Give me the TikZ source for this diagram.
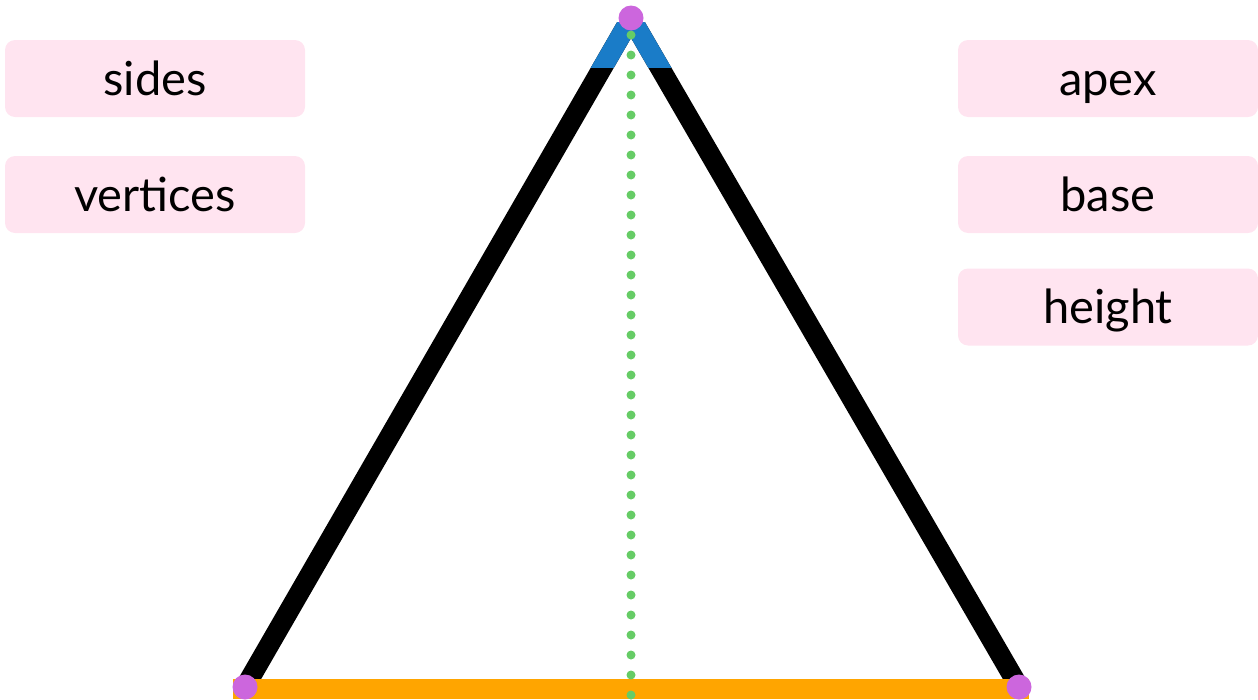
\documentclass[tikz,border=0pt]{standalone}
\usepackage{fontspec}
\setmainfont{Lato}
\definecolor{boxpink}{HTML}{FFE4F0}
\definecolor{vtx}{HTML}{CC66DD}
\definecolor{hgt}{HTML}{66CC66}
\definecolor{apexblue}{HTML}{1A7CC8}
\definecolor{baseorange}{HTML}{FFA500}
\begin{document}
\begin{tikzpicture}[x=1pt,y=-1pt,
  label box/.style={fill=boxpink, rounded corners=10pt, minimum width=300pt, minimum height=77pt, font=\fontsize{47}{50}\selectfont, inner sep=0pt, text height=40pt, text depth=7pt},
  side line/.style={line width=20pt},
  vertex dot/.style={circle, fill=vtx, minimum size=25pt, inner sep=0pt}]
\useasboundingbox (0,0) rectangle (1258,699);
\coordinate (A) at (631,18);
\coordinate (B) at (245,687);
\coordinate (C) at (1019,687);
% sides
\begin{scope}
  \clip (0,22) rectangle (1258,699);
  \draw[side line] (B) -- (A) -- (C);
\end{scope}
\begin{scope}
  \clip (500,22) rectangle (760,67);
  \draw[side line, apexblue] (B) -- (A) -- (C);
\end{scope}
% base
\coordinate (BL) at (233,689);
\coordinate (BR) at (1029,689);
\draw[line width=20pt, baseorange] (BL) -- (BR);
% height
\coordinate (H1) at (631,35);
\coordinate (H2) at (631,699);
\draw[hgt, line width=9pt, line cap=round, dash pattern=on 0pt off 20pt] (H1) -- (H2);
% vertices
\node[vertex dot] (vA) at (A) {};
\node[vertex dot] (vB) at (B) {};
\node[vertex dot] (vC) at (C) {};
% labels
\node[label box] (sides) at (155,78.5) {sides};
\node[label box] (vertices) at (155,194.5) {vertices};
\node[label box] (apex) at (1108,78.5) {apex};
\node[label box] (base) at (1108,194.5) {base};
\node[label box] (height) at (1108,307) {height};
\end{tikzpicture}
\end{document}
